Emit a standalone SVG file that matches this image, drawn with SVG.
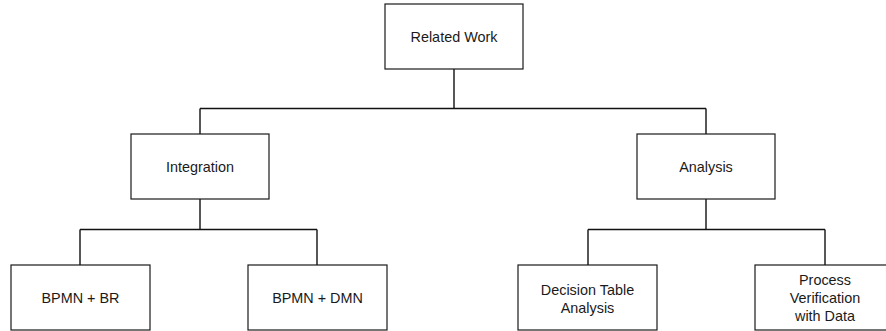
<svg xmlns="http://www.w3.org/2000/svg" width="886" height="331" viewBox="0 0 886 331">
  <style>
    .box { fill: #ffffff; stroke: #1a1a1a; stroke-width: 1.2; }
    .wire { fill: none; stroke: #111111; stroke-width: 1.4; }
    .label { font-family: "Liberation Sans", Arial, sans-serif; font-size: 14.4px; fill: #1a1a1a; text-anchor: middle; }
  </style>
  <rect width="886" height="331" fill="#ffffff"/>

  <!-- tree connectors -->
  <g id="connectors">
    <path class="wire" d="M454,69 V108.5 M200,108.5 H706 M200,108.5 V134 M706,108.5 V134"/>
    <path class="wire" d="M200,199 V229.5 M80,229.5 H317 M80,229.5 V265 M317,229.5 V265"/>
    <path class="wire" d="M706,199 V229.5 M588,229.5 H825 M588,229.5 V265 M825,229.5 V265"/>
  </g>

  <g id="related-work">
    <rect class="box" x="385" y="4" width="138" height="65"/>
    <text class="label" x="454" y="41.5">Related Work</text>
  </g>

  <g id="integration">
    <rect class="box" x="131" y="134" width="138" height="65"/>
    <text class="label" x="200" y="171.5">Integration</text>
  </g>

  <g id="analysis">
    <rect class="box" x="637" y="134" width="138" height="65"/>
    <text class="label" x="706" y="171.5">Analysis</text>
  </g>

  <g id="bpmn-br">
    <rect class="box" x="11" y="265" width="139" height="65"/>
    <text class="label" x="80.5" y="302.5">BPMN + BR</text>
  </g>

  <g id="bpmn-dmn">
    <rect class="box" x="248" y="265" width="139" height="65"/>
    <text class="label" x="317.5" y="302.5">BPMN + DMN</text>
  </g>

  <g id="decision-table-analysis">
    <rect class="box" x="518" y="265" width="139" height="65"/>
    <text class="label" x="587.5" y="295">Decision Table</text>
    <text class="label" x="587.5" y="313">Analysis</text>
  </g>

  <g id="process-verification">
    <rect class="box" x="755" y="265" width="139" height="65"/>
    <text class="label" x="825" y="285">Process</text>
    <text class="label" x="825" y="303">Verification</text>
    <text class="label" x="825" y="321">with Data</text>
  </g>
</svg>
